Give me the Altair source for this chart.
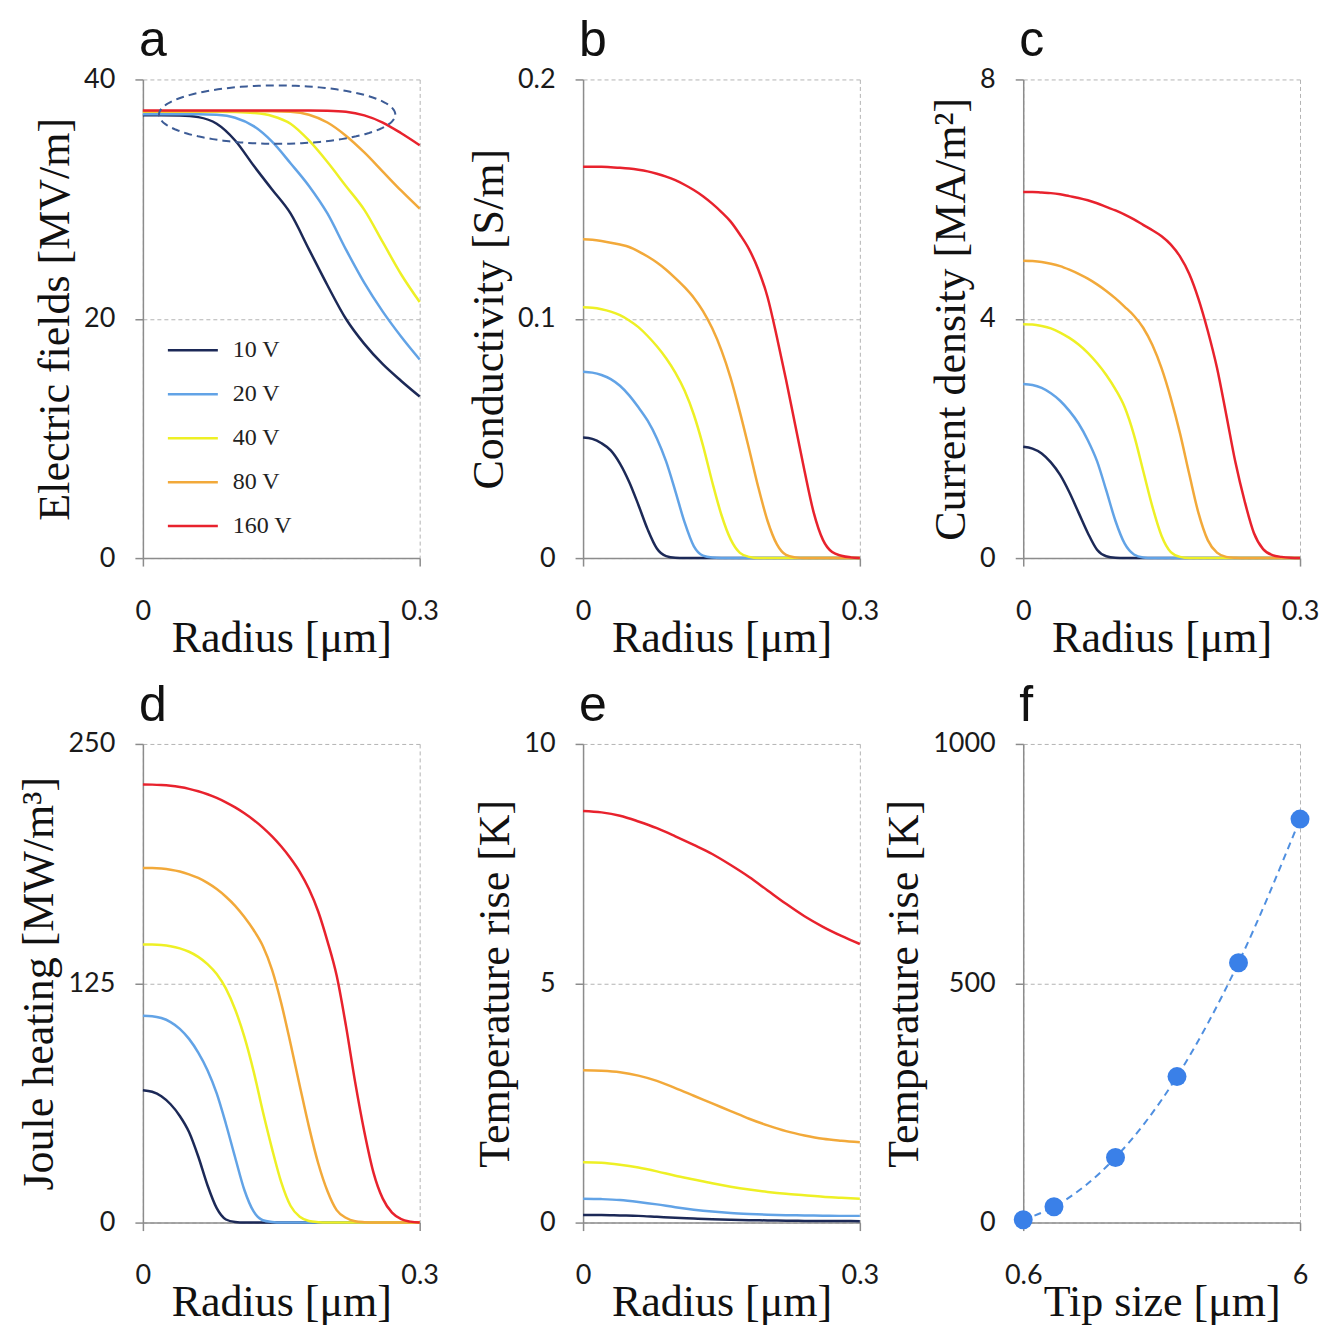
import altair as alt
import numpy as np
import pandas as pd

# ---------------- data ----------------
SERIES = ["10 V", "20 V", "40 V", "80 V", "160 V"]
COLORS = ["#1c2957", "#62a3e6", "#eef025", "#f2a93a", "#e8222d"]

R_COARSE = [0.00, 0.02, 0.04, 0.06, 0.08, 0.10, 0.12, 0.14, 0.16, 0.18,
            0.20, 0.22, 0.24, 0.26, 0.28, 0.30]
R_FINE = [0.00, 0.01, 0.02, 0.03, 0.04, 0.05, 0.06, 0.07, 0.08, 0.09,
          0.10, 0.11, 0.12, 0.13, 0.14, 0.15, 0.16, 0.17, 0.18, 0.19,
          0.20, 0.21, 0.22, 0.23, 0.24, 0.25, 0.26, 0.27, 0.28, 0.29, 0.30]

# a: electric field [MV/m]
E_10 = [37.0, 37.0, 36.98, 36.85, 36.3, 34.9, 32.8, 30.8, 28.8, 25.8, 22.8, 20.0, 17.9, 16.2, 14.8, 13.5]
E_20 = [37.1, 37.1, 37.1, 37.1, 37.05, 36.8, 36.1, 34.8, 33.0, 31.1, 28.8, 25.8, 23.0, 20.6, 18.5, 16.6]
E_40 = [37.3, 37.3, 37.3, 37.3, 37.3, 37.28, 37.2, 36.95, 36.3, 34.9, 33.1, 31.1, 29.1, 26.4, 23.7, 21.4]
E_80 = [37.35, 37.35, 37.35, 37.35, 37.35, 37.35, 37.35, 37.35, 37.3, 37.05, 36.4, 35.3, 33.9, 32.3, 30.7, 29.2]
E_160 = [37.4, 37.4, 37.4, 37.4, 37.4, 37.4, 37.4, 37.4, 37.4, 37.4, 37.38, 37.3, 37.0, 36.4, 35.5, 34.5]

# b: conductivity [S/m]
S_10 = [.0504, .0498, .0480, .0450, .0395, .0318, .0222, .0120, .0040, .0008, .0001] + [0] * 20
S_20 = [.0779, .0775, .0765, .0748, .0720, .0680, .0630, .0574, .0500, .0404, .0280, .0150, .0050,
        .0010, .0002] + [0] * 16
S_40 = [.1048, .1046, .1040, .1030, .1015, .0993, .0965, .0928, .0885, .0835, .0775, .0700, .0600,
        .0470, .0318, .0180, .0078, .0022, .0005] + [0] * 12
S_80 = [.1332, .1330, .1325, .1318, .1310, .1300, .1282, .1260, .1235, .1205, .1170, .1132, .1088,
        .1032, .0960, .0868, .0752, .0610, .0455, .0295, .0155, .0058, .0013, .0003] + [0] * 7
S_160 = [.1635, .1635, .1635, .1633, .1631, .1628, .1623, .1616, .1606, .1594, .1579, .1560, .1538,
         .1512, .1481, .1446, .1406, .1352, .1290, .1205, .1090, .0925, .0745, .0555, .0365, .0190,
         .0076, .0025, .0010, .0003, .0000]

# c: current density [MA/m2]
J_10 = [1.86, 1.83, 1.75, 1.60, 1.39, 1.10, 0.76, 0.42, 0.14, 0.03, 0.005] + [0] * 20
J_20 = [2.91, 2.894, 2.844, 2.755, 2.63, 2.46, 2.25, 1.97, 1.62, 1.13, 0.62, 0.24, 0.06, 0.01] + [0] * 17
J_40 = [3.91, 3.905, 3.88, 3.84, 3.77, 3.68, 3.57, 3.43, 3.26, 3.06, 2.82, 2.52, 2.06, 1.46, 0.86,
        0.37, 0.10, 0.02] + [0] * 13
J_80 = [4.97, 4.965, 4.95, 4.92, 4.88, 4.82, 4.75, 4.67, 4.575, 4.465, 4.34, 4.20, 4.05, 3.85, 3.56,
        3.17, 2.67, 2.08, 1.40, 0.75, 0.30, 0.09, 0.02, 0.005] + [0] * 7
J_160 = [6.12, 6.12, 6.11, 6.10, 6.08, 6.05, 6.02, 5.98, 5.93, 5.87, 5.81, 5.74, 5.66, 5.57, 5.48,
         5.38, 5.24, 5.04, 4.75, 4.33, 3.80, 3.18, 2.40, 1.60, 0.95, 0.42, 0.15, 0.05, 0.02, 0.005, 0]

# d: Joule heating [MW/m3]
P_10 = [69.1, 68.3, 66.0, 61.8, 55.7, 47.3, 34.5, 19.5, 7.5, 1.6, 0.3] + [0] * 20
P_20 = [108.0, 107.8, 106.83, 104.73, 101.2, 95.95, 88.8, 79.6, 67.5, 51.5, 34.0, 17.0, 5.8, 1.2,
        0.3] + [0] * 16
P_40 = [145.3, 145.25, 145.0, 144.36, 143.2, 141.46, 138.8, 135.0, 129.8, 122.2, 111.3, 97.0, 79.0,
        58.0, 38.5, 21.0, 8.8, 3.0, 0.8, 0.2] + [0] * 11
P_80 = [185.2, 185.15, 184.9, 184.34, 183.4, 181.9, 180.0, 177.4, 174.2, 170.2, 165.45, 159.6, 152.8,
        144.5, 132.0, 114.5, 93.5, 71.5, 50.0, 31.0, 16.5, 6.5, 2.5, 0.7, 0.2] + [0] * 6
P_160 = [228.8, 228.75, 228.55, 228.14, 227.47, 226.54, 225.3, 223.7, 221.8, 219.5, 216.85, 213.8,
         210.3, 206.3, 201.7, 196.4, 190.3, 183.2, 174.2, 162.5, 147.0, 129.0, 103.0, 73.5, 47.5,
         26.0, 12.5, 5.2, 1.8, 0.5, 0]

# e: temperature rise [K]
T_10 = [0.16, 0.16, 0.15, 0.14, 0.12, 0.10, 0.085, 0.07, 0.06, 0.05, 0.045, 0.04, 0.035, 0.033, 0.031, 0.03]
T_20 = [0.50, 0.49, 0.47, 0.43, 0.38, 0.32, 0.27, 0.23, 0.20, 0.18, 0.165, 0.155, 0.15, 0.145, 0.14, 0.14]
T_40 = [1.26, 1.25, 1.21, 1.15, 1.07, 0.98, 0.90, 0.82, 0.75, 0.69, 0.64, 0.60, 0.57, 0.54, 0.52, 0.50]
T_80 = [3.18, 3.17, 3.14, 3.07, 2.96, 2.81, 2.65, 2.49, 2.33, 2.17, 2.03, 1.91, 1.82, 1.75, 1.71, 1.68]
T_160 = [8.60, 8.57, 8.50, 8.38, 8.24, 8.07, 7.89, 7.70, 7.47, 7.22, 6.94, 6.66, 6.40, 6.18, 5.99, 5.82]

# f: temperature rise vs tip size
TIP_SIZE = [0.6, 1.2, 2.4, 3.6, 4.8, 6.0]
TIP_TEMP = [6, 33, 136, 305, 543, 843]

# annotation ellipse in panel a (center / radii in data units)
ELL_CX, ELL_CY, ELL_RX, ELL_RY = 0.1455, 37.06, 0.1281, 2.44

# ---------------- helpers ----------------
W, H = 277, 479
SERIF = "Liberation Serif"
SANS = "Lato"
LABEL_EXPR = "'' + datum.value"


def long_df(r, lists):
    rows = []
    for name, vals in zip(SERIES, lists):
        for x, y in zip(r, vals):
            rows.append({"r": x, "v": y, "s": name})
    return pd.DataFrame(rows)


def letter_layer(letter):
    return alt.Chart(pd.DataFrame({"t": [letter]})).mark_text(
        font="Liberation Sans", fontSize=50, align="left", baseline="alphabetic", color="#111111"
    ).encode(text="t:N", x=alt.value(-4), y=alt.value(-23))


def radius_panel(df, ytitle, ydom, yticks, letter, legend=None, extra=None):
    lines = alt.Chart(df).mark_line(strokeWidth=2.5, interpolate="monotone").encode(
        x=alt.X("r:Q", scale=alt.Scale(domain=[0, 0.3], nice=False, zero=False),
                axis=alt.Axis(values=[0, 0.3], title="Radius [μm]", labelExpr=LABEL_EXPR)),
        y=alt.Y("v:Q", scale=alt.Scale(domain=ydom, nice=False, zero=False),
                axis=alt.Axis(values=yticks, title=ytitle, labelExpr=LABEL_EXPR)),
        color=alt.Color("s:N", scale=alt.Scale(domain=SERIES, range=COLORS), legend=legend,
                        sort=SERIES),
    )
    layers = [lines]
    if extra is not None:
        layers.append(extra)
    layers.append(letter_layer(letter))
    return alt.layer(*layers).properties(width=W, height=H)


legend_a = alt.Legend(
    orient="none", legendX=38, legendY=259, title=None, padding=0,
    symbolType="M-2.5,0H2.5", symbolSize=400, symbolStrokeWidth=2.5,
    labelFont=SERIF, labelFontSize=24, labelColor="#222222", labelOffset=28,
    rowPadding=20, direction="vertical",
)

theta = np.linspace(0, 2 * np.pi, 121)
ell_df = pd.DataFrame({
    "r": ELL_CX + ELL_RX * np.cos(theta),
    "v": ELL_CY + ELL_RY * np.sin(theta),
    "k": np.arange(len(theta)),
})
ellipse = alt.Chart(ell_df).mark_line(
    color="#3d5c96", strokeWidth=2, strokeDash=[8, 5]
).encode(x="r:Q", y="v:Q", order="k:Q")

pa = radius_panel(long_df(R_COARSE, [E_10, E_20, E_40, E_80, E_160]),
                  "Electric fields [MV/m]", [0, 40], [0, 20, 40], "a", legend=legend_a, extra=ellipse)
pb = radius_panel(long_df(R_FINE, [S_10, S_20, S_40, S_80, S_160]),
                  "Conductivity [S/m]", [0, 0.2], [0, 0.1, 0.2], "b")
pc = radius_panel(long_df(R_FINE, [J_10, J_20, J_40, J_80, J_160]),
                  "Current density [MA/m²]", [0, 8], [0, 4, 8], "c")
pd_ = radius_panel(long_df(R_FINE, [P_10, P_20, P_40, P_80, P_160]),
                   "Joule heating [MW/m³]", [0, 250], [0, 125, 250], "d")
pe = radius_panel(long_df(R_COARSE, [T_10, T_20, T_40, T_80, T_160]),
                  "Temperature rise [K]", [0, 10], [0, 5, 10], "e")

tip_df = pd.DataFrame({"tip": TIP_SIZE, "temp": TIP_TEMP})
fx = alt.X("tip:Q", scale=alt.Scale(domain=[0.6, 6], nice=False, zero=False),
           axis=alt.Axis(values=[0.6, 6], title="Tip size [μm]", labelExpr=LABEL_EXPR))
fy = alt.Y("temp:Q", scale=alt.Scale(domain=[0, 1000], nice=False),
           axis=alt.Axis(values=[0, 500, 1000], title="Temperature rise [K]", labelExpr=LABEL_EXPR))
f_line = alt.Chart(tip_df).mark_line(
    color="#4f8fe0", strokeWidth=2, strokeDash=[7, 5], interpolate="monotone"
).encode(x=fx, y=fy)
f_pts = alt.Chart(tip_df).mark_circle(size=360, color="#3a80e8", opacity=1).encode(x=fx, y=fy)
pf = alt.layer(f_line, f_pts, letter_layer("f")).properties(width=W, height=H)

res = dict(x="independent", y="independent", color="independent")
chart = alt.concat(
    pa, pb, pc, pd_, pe, pf, columns=3,
    spacing={"row": 186, "column": 163.5}, bounds="flush",
).resolve_scale(**res).properties(
    padding={"left": 10, "top": 8, "right": 0, "bottom": 0}
).configure_view(strokeWidth=0).configure_axis(
    domainColor="#8c8c8c", domainWidth=1.5,
    tickColor="#8c8c8c", tickSize=8, tickWidth=1.5,
    gridColor="#b4b4b4", gridDash=[4, 3], gridWidth=1,
    labelFont=SANS, labelFontSize=27, labelColor="#1a1a1a",
    titleFont=SERIF, titleFontSize=44, titleFontWeight="normal", titleColor="#111111",
).configure_axisX(
    labelPadding=32, titlePadding=-8, labelFlush=False, labelOverlap=False,
).configure_axisY(
    labelPadding=20, titlePadding=6, labelOverlap=False,
)

chart.save("out.html", embed_options={"renderer": "svg", "actions": False})
